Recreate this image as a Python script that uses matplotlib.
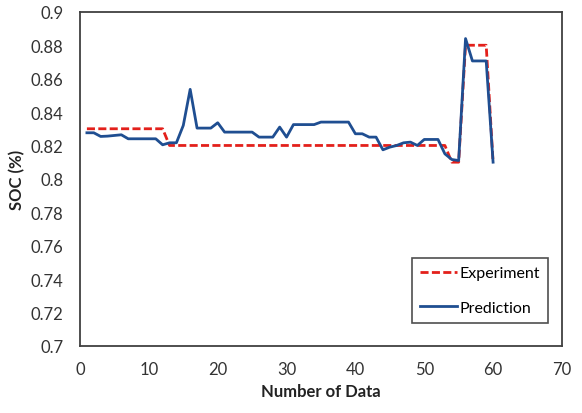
import numpy as np
from matplotlib import pyplot as plt

plt.rcParams['font.family'] = ['Lato', 'DejaVu Sans']

# data
x = list(range(1, 61))
experiment = [0.83] * 12 + [0.82] * 41 + [0.81, 0.81] + [0.88] * 4 + [0.81]
prediction = [0.8276, 0.8276, 0.8254, 0.8256, 0.826, 0.8264, 0.824, 0.824, 0.824, 0.824,
              0.824, 0.8204, 0.8216, 0.8216, 0.832, 0.8536, 0.8304, 0.8304, 0.8304, 0.8336,
              0.828, 0.828, 0.828, 0.828, 0.828, 0.825, 0.825, 0.825, 0.831, 0.825,
              0.8325, 0.8325, 0.8325, 0.8325, 0.834, 0.834, 0.834, 0.834, 0.834, 0.827,
              0.827, 0.825, 0.825, 0.8174, 0.819, 0.82, 0.8216, 0.822, 0.82, 0.8236,
              0.8236, 0.8236, 0.815, 0.8116, 0.811, 0.884, 0.8706, 0.8706, 0.8706, 0.81]
xticks = [0, 10, 20, 30, 40, 50, 60, 70]
yticks = [0.7, 0.72, 0.74, 0.76, 0.78, 0.8, 0.82, 0.84, 0.86, 0.88, 0.9]
ytick_labels = ['0.7', '0.72', '0.74', '0.76', '0.78', '0.8', '0.82', '0.84', '0.86', '0.88', '0.9']

fig = plt.figure(figsize=(5.82, 4.14), dpi=100)
ax = fig.add_axes([0.1375, 0.162, 0.828, 0.807])

ax.plot(x, experiment, color='#e3201b', lw=2.0, ls=(0, (2.9, 1.2)), label='Experiment')
ax.plot(x, prediction, color='#1f4e91', lw=2.0, label='Prediction')

ax.set_xlim(0, 70)
ax.set_ylim(0.7, 0.9)
ax.set_xticks(xticks)
ax.set_yticks(yticks)
ax.set_yticklabels(ytick_labels)
ax.tick_params(length=0, labelsize=12, colors='#333333')
ax.tick_params(axis='y', pad=12)
ax.tick_params(axis='x', pad=11)
for s in ax.spines.values():
    s.set_color('#404040')
    s.set_linewidth(1.3)

ax.set_xlabel('Number of Data', fontsize=12, fontweight='bold', color='#222222')
ax.set_ylabel('SOC (%)', fontsize=12, fontweight='bold', color='#222222')

leg = ax.legend(loc='lower right', bbox_to_anchor=(0.972, 0.069), fontsize=11.5,
                fancybox=False, handlelength=2.3, handletextpad=0.2,
                labelspacing=1.27, borderpad=0.5, borderaxespad=0)
leg.get_frame().set_edgecolor('#222222')
leg.get_frame().set_linewidth(1.2)

fig.savefig('out.png', dpi=100)
